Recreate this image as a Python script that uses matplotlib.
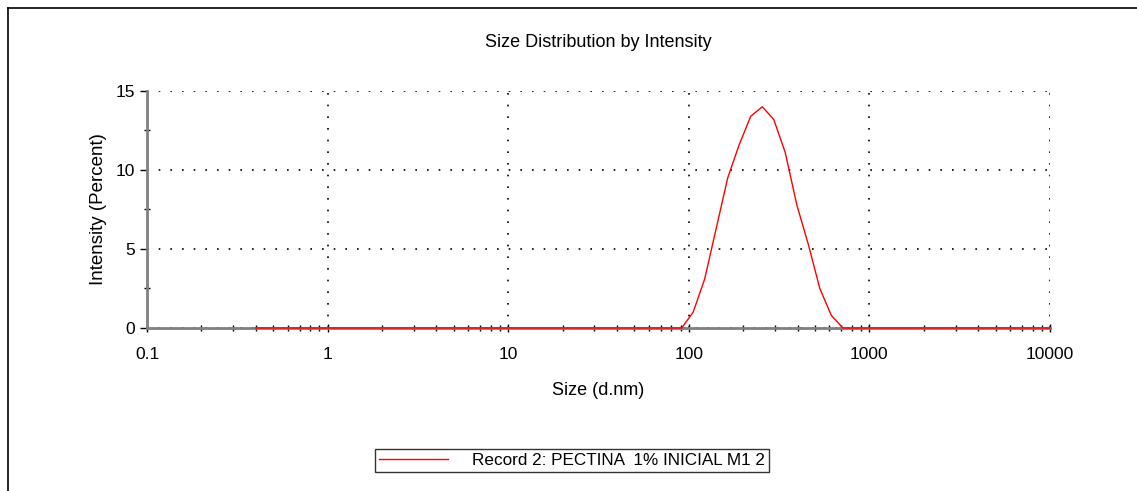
import matplotlib
matplotlib.use('Agg')
import matplotlib.pyplot as plt
from matplotlib.lines import Line2D
from matplotlib.ticker import FixedLocator, LogLocator, NullFormatter

plt.rcParams['font.family'] = ['Liberation Sans', 'DejaVu Sans']

# Malvern size classes (d.nm)
sizes = [0.4, 0.4632, 0.5365, 0.6213, 0.7195, 0.8332, 0.9649, 1.117, 1.294, 1.499,
         1.736, 2.010, 2.328, 2.696, 3.122, 3.615, 4.187, 4.849, 5.615, 6.503,
         7.531, 8.721, 10.10, 11.70, 13.54, 15.69, 18.17, 21.04, 24.36, 28.21,
         32.67, 37.84, 43.82, 50.75, 58.77, 68.06, 78.82, 91.28, 105.7, 122.4,
         141.8, 164.2, 190.1, 220.2, 255.0, 295.3, 342.0, 396.1, 458.7, 531.2,
         615.1, 712.4, 825.0, 955.4, 1106, 1281, 1484, 1718, 1990, 2305,
         2669, 3091, 3580, 4145, 4801, 5560, 6439, 7456, 8635, 10000]

# intensity (percent) per class
peak = [1.0, 3.1, 6.3, 9.5, 11.6, 13.4, 14.0, 13.2, 11.1, 7.8, 5.3, 2.5, 0.8]
intensity = [0.0] * 38 + peak + [0.0] * 19

record_label = 'Record 2: PECTINA  1% INICIAL M1 2'
x_ticks = [0.1, 1, 10, 100, 1000, 10000]
x_ticklabels = ['0.1', '1', '10', '100', '1000', '10000']
y_ticks = [0, 5, 10, 15]

fig = plt.figure(figsize=(11.37, 4.91), dpi=100)
ax = fig.add_axes([0.1293, 0.332, 0.7942, 0.4827])

ax.plot(sizes, intensity, color='red', lw=1.0, label=record_label, zorder=5, clip_on=False)

ax.set_xscale('log')
ax.set_xlim(0.1, 10000)
ax.set_ylim(0, 15)
ax.xaxis.set_major_locator(FixedLocator(x_ticks))
ax.set_xticklabels(x_ticklabels)
ax.xaxis.set_minor_locator(LogLocator(base=10, subs=range(2, 10)))
ax.xaxis.set_minor_formatter(NullFormatter())
ax.set_yticks(y_ticks)
ax.yaxis.set_minor_locator(FixedLocator([2.5, 7.5, 12.5]))

# dotted grid
ax.grid(True, which='major', color='black', linestyle=(0, (1, 6)), lw=1.2)

for side in ['top', 'right']:
    ax.spines[side].set_visible(False)
for side in ['left', 'bottom']:
    ax.spines[side].set_color('#808080')
    ax.spines[side].set_linewidth(2)

ax.tick_params(axis='both', which='major', labelsize=12.5, color='black', length=5,
               width=1, direction='out')
ax.tick_params(axis='x', which='major', direction='inout', length=6, pad=11)
ax.tick_params(axis='both', which='minor', color='black', length=4, width=1,
               direction='inout')

ax.set_title('Size Distribution by Intensity', fontsize=13, pad=32)
ax.set_xlabel('Size (d.nm)', fontsize=13, labelpad=14)
ax.set_ylabel('Intensity (Percent)', fontsize=13.5, labelpad=6)

leg = fig.legend(loc='center', bbox_to_anchor=(0.503, 0.062), fontsize=12.3,
                 frameon=True, fancybox=False, handlelength=4.0,
                 handletextpad=1.4, borderpad=0.25, borderaxespad=0)
leg.get_frame().set_edgecolor('black')
leg.get_frame().set_linewidth(1)

# outer frame, left and top edges only
fig.add_artist(Line2D([0.0066, 0.0066], [0.0, 0.984], color='black', lw=1.2))
fig.add_artist(Line2D([0.0066, 1.0], [0.984, 0.984], color='black', lw=1.2))

fig.savefig('out.png', dpi=100)
